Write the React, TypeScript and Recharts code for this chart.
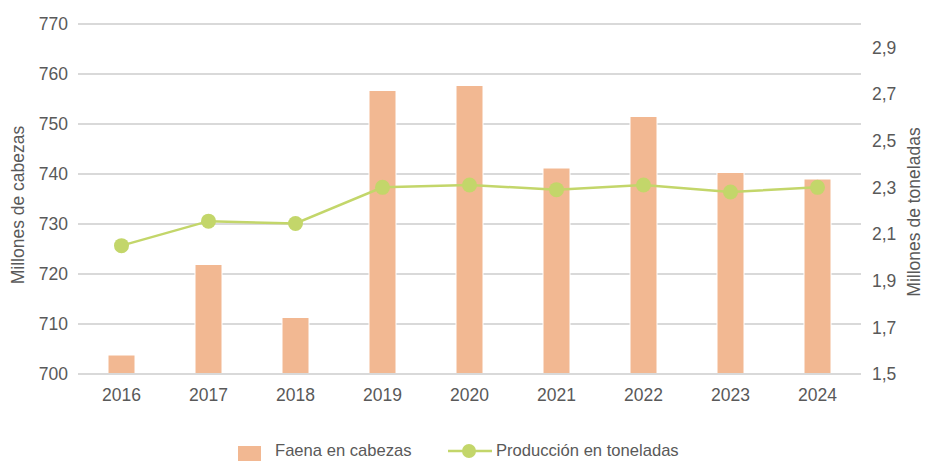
import { ComposedChart, Bar, Line, XAxis, YAxis, CartesianGrid, Legend } from 'recharts';

const years = ['2016', '2017', '2018', '2019', '2020', '2021', '2022', '2023', '2024'];
const faena = [703.8, 721.9, 711.3, 756.7, 757.7, 741.2, 751.5, 740.3, 739.0];
const produccion = [2.05, 2.155, 2.145, 2.3, 2.31, 2.29, 2.31, 2.28, 2.3];
const leftTicks = [700, 710, 720, 730, 740, 750, 760, 770];
const rightTicks = [1.5, 1.7, 1.9, 2.1, 2.3, 2.5, 2.7, 2.9];

const data = years.map((y, i) => ({ year: y, faena: faena[i], produccion: produccion[i] }));

const FONT = '"Liberation Sans", Arial, sans-serif';
const TEXT = '#595959';
const BAR = '#F2B892';
const LINE = '#C3D66A';

function LegendBox() {
  return (
    <div style={{ position: 'relative', height: 24, fontFamily: FONT, fontSize: 16.6, color: TEXT }}>
      <div style={{ position: 'absolute', left: 238, top: 9, width: 23, height: 15, background: BAR }} />
      <span style={{ position: 'absolute', left: 275, top: 2, lineHeight: '24px' }}>Faena en cabezas</span>
      <svg style={{ position: 'absolute', left: 447, top: 0 }} width={46} height={24}>
        <line x1={1} y1={14} x2={45} y2={14} stroke={LINE} strokeWidth={2.5} />
        <circle cx={22} cy={14} r={7} fill={LINE} />
      </svg>
      <span style={{ position: 'absolute', left: 496, top: 2, lineHeight: '24px' }}>Producción en toneladas</span>
    </div>
  );
}

export default function App() {
  const tick = { fontSize: 17.5, fill: TEXT, fontFamily: FONT };
  const labelStyle = { fontSize: 17.5, fill: TEXT, fontFamily: FONT };
  return (
    <div style={{ position: 'absolute', left: 0, top: 0, background: '#fff' }}>
      <ComposedChart
        width={925}
        height={461}
        data={data}
        margin={{ top: 24, right: 0, bottom: 0, left: 0 }}
      >
        <CartesianGrid yAxisId="left" vertical={false} stroke="#d9d9d9" strokeWidth={2} />
        <XAxis
          dataKey="year"
          height={63}
          tick={tick}
          tickLine={false}
          tickSize={0}
          tickMargin={15}
          axisLine={{ stroke: '#d9d9d9', strokeWidth: 2 }}
        />
        <YAxis
          yAxisId="left"
          width={78}
          domain={[700, 770]}
          ticks={leftTicks}
          tick={tick}
          tickLine={false}
          tickSize={0}
          tickMargin={10}
          axisLine={false}
          label={{ value: 'Millones de cabezas', angle: -90, position: 'center', dx: -21, dy: 6, style: labelStyle }}
        />
        <YAxis
          yAxisId="right"
          orientation="right"
          width={64}
          domain={[1.5, 3.0]}
          ticks={rightTicks}
          tick={tick}
          tickLine={false}
          tickSize={0}
          tickMargin={11}
          axisLine={false}
          tickFormatter={(v: number) => v.toFixed(1).replace('.', ',')}
          label={{ value: 'Millones de toneladas', angle: -90, position: 'center', dx: 21, dy: 13, style: labelStyle }}
        />
        <Legend verticalAlign="bottom" height={24} content={() => <LegendBox />} />
        <Bar yAxisId="left" dataKey="faena" fill={BAR} stroke="#fff" strokeWidth={1} barSize={27} isAnimationActive={false} />
        <Line
          yAxisId="right"
          dataKey="produccion"
          stroke={LINE}
          strokeWidth={2.5}
          dot={{ r: 7.5, fill: LINE, stroke: LINE, strokeWidth: 0 }}
          activeDot={false}
          isAnimationActive={false}
        />
      </ComposedChart>
    </div>
  );
}
